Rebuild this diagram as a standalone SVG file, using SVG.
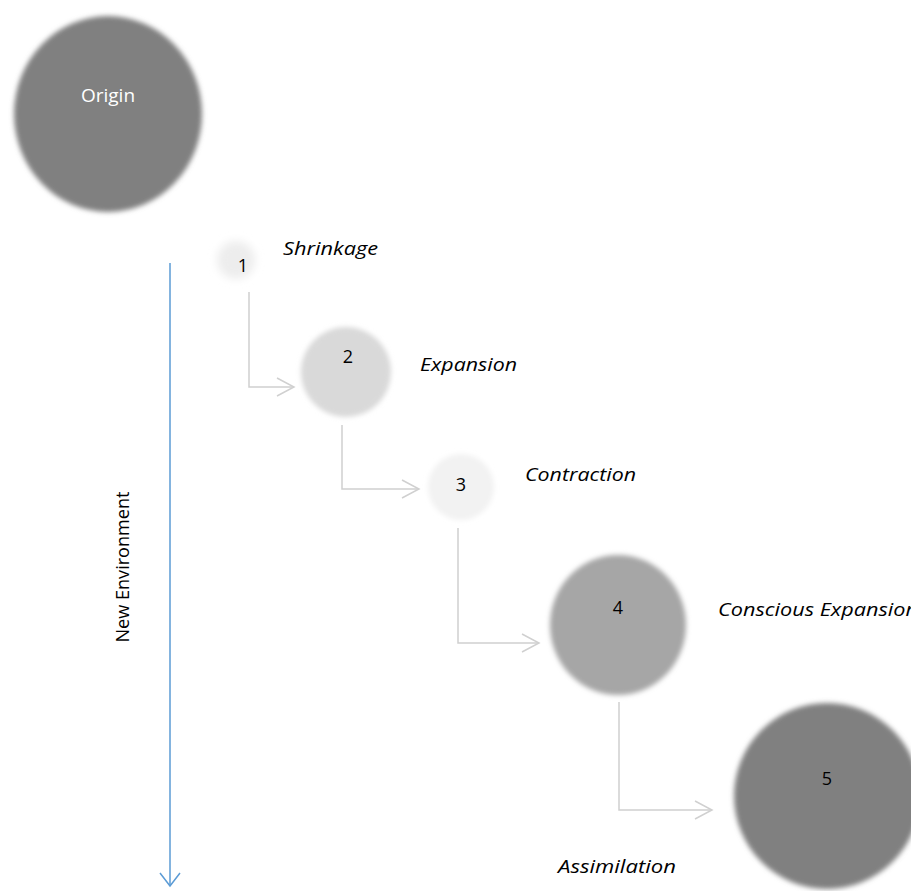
<svg xmlns="http://www.w3.org/2000/svg" width="911" height="891" viewBox="0 0 911 891">
  <defs>
    <filter id="soft" x="-20%" y="-20%" width="140%" height="140%">
      <feGaussianBlur stdDeviation="2.5"/>
    </filter>
    <filter id="softer" x="-60%" y="-60%" width="220%" height="220%">
      <feGaussianBlur stdDeviation="4"/>
    </filter>
    <marker id="greyHead" viewBox="0 0 20 20" refX="18" refY="10" markerWidth="20" markerHeight="20" markerUnits="userSpaceOnUse" orient="auto">
      <path d="M1,1 L18,10 L1,19" fill="none" stroke="#d0d0d0" stroke-width="1.5"/>
    </marker>
    <marker id="blueHead" viewBox="0 0 24 16" refX="11" refY="14" markerWidth="24" markerHeight="16" markerUnits="userSpaceOnUse" orient="0">
      <path d="M1,1 L11,14 L21,1" fill="none" stroke="#5b9bd5" stroke-width="1.5"/>
    </marker>
  </defs>
  <style>
    .num { font-family: "Open Sans", "Liberation Sans", sans-serif; font-size: 18px; fill: #000; text-anchor: middle; }
    .stage { font-family: "Open Sans", "Liberation Sans", sans-serif; font-style: italic; font-size: 18px; fill: #000; }
    .link { fill: none; stroke: #d0d0d0; stroke-width: 1.5; marker-end: url(#greyHead); }
  </style>

  <rect width="911" height="891" fill="#ffffff"/>

  <!-- Origin -->
  <g id="origin">
    <ellipse cx="108" cy="114" rx="94" ry="98" fill="#808080" filter="url(#soft)"/>
    <text x="108" y="102" text-anchor="middle" font-family="Open Sans, Liberation Sans, sans-serif" font-size="19" fill="#ffffff">Origin</text>
  </g>

  <!-- Timeline axis -->
  <g id="axis">
    <line x1="170" y1="263" x2="170" y2="886" stroke="#5b9bd5" stroke-width="1.5" marker-end="url(#blueHead)"/>
    <text transform="translate(129,567) rotate(-90)" text-anchor="middle" font-family="Open Sans, Liberation Sans, sans-serif" font-size="18" textLength="151" lengthAdjust="spacingAndGlyphs" fill="#000">New Environment</text>
  </g>

  <!-- Stage nodes -->
  <g id="stage1">
    <circle cx="236" cy="260" r="19" fill="#ededed" filter="url(#softer)"/>
    <text class="num" x="243" y="272">1</text>
    <text class="stage" x="283" y="255" textLength="95" lengthAdjust="spacingAndGlyphs">Shrinkage</text>
  </g>
  <g id="stage2">
    <circle cx="346" cy="372" r="45" fill="#d9d9d9" filter="url(#soft)"/>
    <text class="num" x="348" y="363">2</text>
    <text class="stage" x="420" y="371" textLength="97" lengthAdjust="spacingAndGlyphs">Expansion</text>
  </g>
  <g id="stage3">
    <circle cx="461" cy="487" r="33" fill="#f2f2f2" filter="url(#soft)"/>
    <text class="num" x="461" y="491">3</text>
    <text class="stage" x="525" y="481" textLength="111" lengthAdjust="spacingAndGlyphs">Contraction</text>
  </g>
  <g id="stage4">
    <ellipse cx="618" cy="625" rx="68" ry="70" fill="#a6a6a6" filter="url(#soft)"/>
    <text class="num" x="618" y="614">4</text>
    <text class="stage" x="718" y="616" textLength="200" lengthAdjust="spacingAndGlyphs">Conscious Expansion</text>
  </g>
  <g id="stage5">
    <circle cx="827" cy="796" r="93" fill="#808080" filter="url(#soft)"/>
    <text class="num" x="827" y="785">5</text>
    <text class="stage" x="558" y="873" textLength="118" lengthAdjust="spacingAndGlyphs">Assimilation</text>
  </g>

  <!-- Connectors between stages -->
  <g id="connectors">
    <path class="link" d="M249,292 V387 H294"/>
    <path class="link" d="M342,425 V489 H419"/>
    <path class="link" d="M458,528 V643 H539"/>
    <path class="link" d="M619,702 V810 H712"/>
  </g>
</svg>
